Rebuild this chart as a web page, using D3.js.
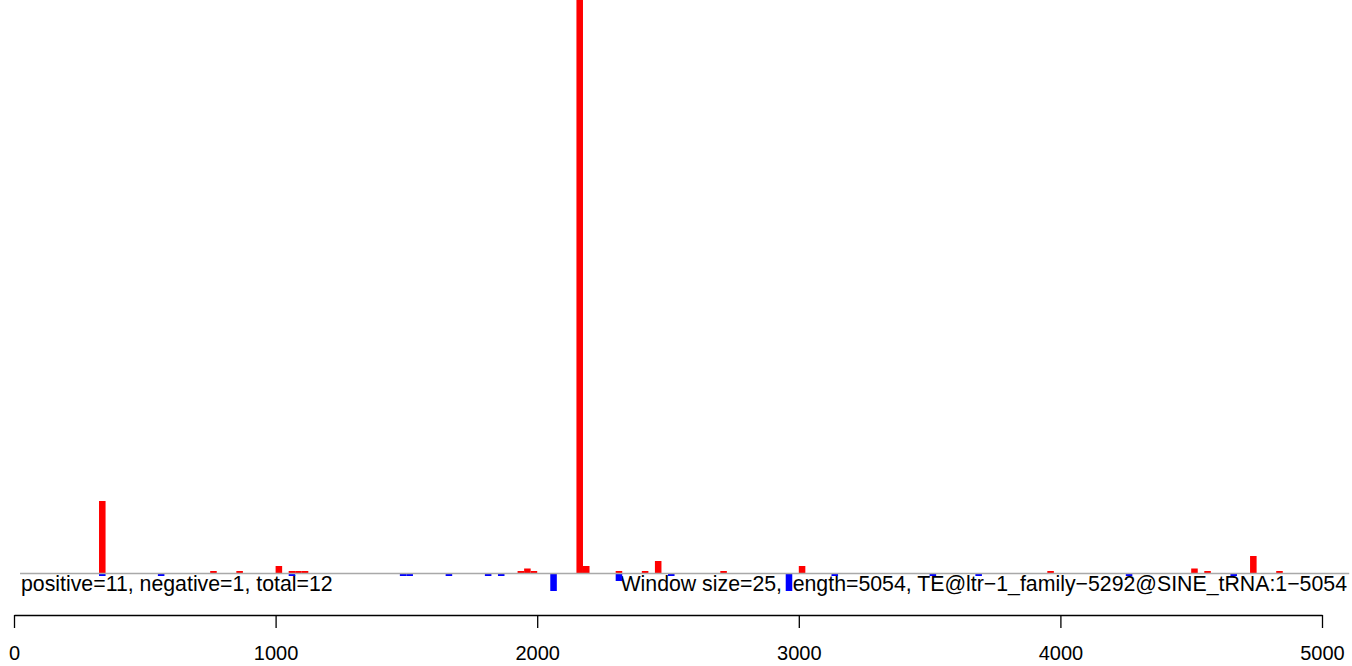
<!DOCTYPE html>
<html>
<head>
<meta charset="utf-8">
<script src="https://cdn.jsdelivr.net/npm/d3@7"></script>
<style>
  html, body { margin: 0; padding: 0; background: #fff; }
  svg { display: block; }
  text { font-family: "Liberation Sans", Arial, sans-serif; fill: #000; }
</style>
</head>
<body>
<svg id="chart" width="1352" height="666"></svg>
<script>
// ---- data ----
const windowSize = 25;
const posStarts = [325, 750, 850, 1000, 1050, 1075, 1100, 1925, 1950, 1975, 2150, 2175, 2300, 2400, 2450, 2700, 3000, 3950, 4500, 4550, 4725, 4825];
const posValues = [29, 1, 1, 3, 1, 1, 1, 1, 2, 1, 260, 3, 1, 1, 5, 1, 3, 1, 2, 1, 7, 1];
const negStarts = [325, 550, 1050, 1475, 1500, 1650, 1800, 1850, 2050, 2300, 2500, 2950, 3125, 3500, 3675, 4250, 4650];
const negValues = [1, 1, 1, 1, 1, 1, 1, 1, 7, 3, 1, 7, 1, 1, 1, 1, 1];
const xTicks = [0, 1000, 2000, 3000, 4000, 5000];
const leftLabel = "positive=11, negative=1, total=12";
const rightLabel = "Window size=25, length=5054, TE@ltr\u22121_family\u22125292@SINE_tRNA:1\u22125054";

// ---- scales ----
const svg = d3.select("#chart");
const x = d3.scaleLinear().domain([0, 5000]).range([14, 1322]);
const y = d3.scaleLinear().domain([0, 229.4]).range([573.5, 0]);

// annotation text
svg.append("text").attr("x", 21).attr("y", 591)
  .style("font-size", "21.3px").text(leftLabel);
svg.append("text").attr("x", 1347).attr("y", 591)
  .attr("text-anchor", "end")
  .style("font-size", "21.3px").text(rightLabel);

// bars
const pos = posStarts.map((s, i) => ({s, v: posValues[i]}));
const neg = negStarts.map((s, i) => ({s, v: negValues[i]}));

svg.append("g").selectAll("rect").data(pos).join("rect")
  .attr("x", d => x(d.s))
  .attr("width", d => x(d.s + windowSize) - x(d.s))
  .attr("y", d => y(d.v))
  .attr("height", d => y(0) - y(d.v))
  .attr("fill", "#ff0000");

svg.append("g").selectAll("rect").data(neg).join("rect")
  .attr("x", d => x(d.s))
  .attr("width", d => x(d.s + windowSize) - x(d.s))
  .attr("y", y(0))
  .attr("height", d => y(-d.v) - y(0))
  .attr("fill", "#0000ff");

// baseline
svg.append("line")
  .attr("x1", x(23)).attr("x2", x(5104))
  .attr("y1", y(0)).attr("y2", y(0))
  .attr("stroke", "#a9a9a9").attr("stroke-width", 1.6);

// x axis
const axis = d3.axisBottom(x).tickValues(xTicks).tickFormat(d3.format("d"))
  .tickSize(13).tickPadding(18).tickSizeOuter(0);
const gAxis = svg.append("g").attr("transform", "translate(0,615)").call(axis);
gAxis.select(".domain").attr("stroke", "#000").attr("stroke-width", 1.3);
gAxis.selectAll(".tick line").attr("stroke", "#000").attr("stroke-width", 1.3);
gAxis.selectAll(".tick text")
  .style("font-family", "'Liberation Sans', Arial, sans-serif")
  .style("font-size", "20px").attr("fill", "#000");
</script>
</body>
</html>
